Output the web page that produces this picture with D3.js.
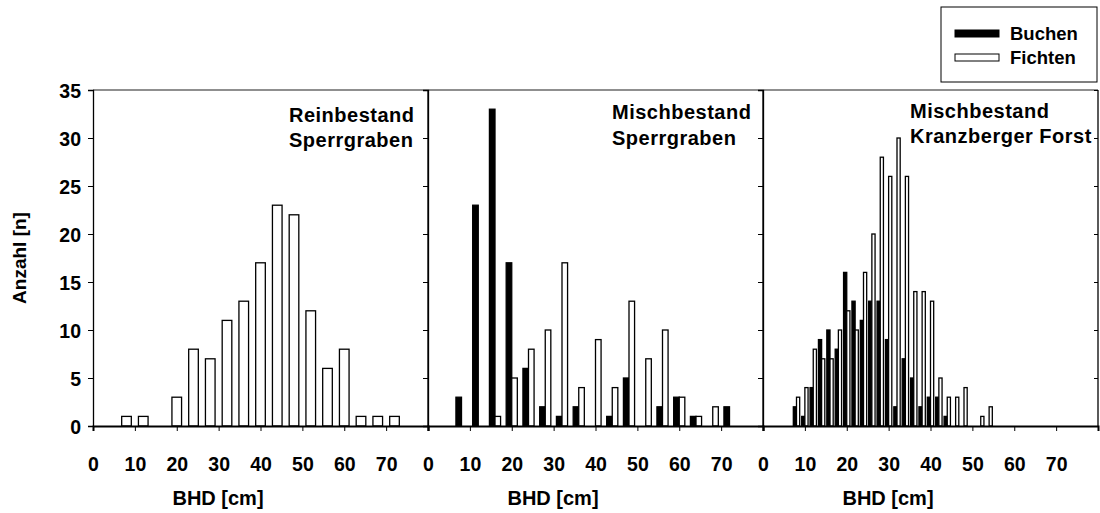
<!DOCTYPE html>
<html>
<head>
<meta charset="utf-8">
<script src="https://cdn.jsdelivr.net/npm/d3@7"></script>
<style>
  html, body { margin: 0; padding: 0; background: #fff; }
  svg { display: block; font-family: "Liberation Sans", Arial, Helvetica, sans-serif; font-weight: bold; }
</style>
</head>
<body>
<svg id="chart" width="1100" height="513"></svg>
<script>
// Diameter classes (BHD, cm) and tree counts per stand
const classes4 = [8, 12, 16, 20, 24, 28, 32, 36, 40, 44, 48, 52, 56, 60, 64, 68, 72];
const reinFichten = [1, 1, 0, 3, 8, 7, 11, 13, 17, 23, 22, 12, 6, 8, 1, 1, 1];

const sperrBuchen = [3, 23, 33, 17, 6, 2, 1, 2, 0, 1, 5, 0, 2, 3, 1, 0, 2];
const sperrFichten = [0, 0, 1, 5, 8, 10, 17, 4, 9, 4, 13, 7, 10, 3, 1, 2, 0];

const classes2 = [8, 10, 12, 14, 16, 18, 20, 22, 24, 26, 28, 30, 32, 34, 36, 38, 40, 42, 44, 46, 48, 50, 52, 54];
const kranzBuchen = [2, 1, 4, 9, 10, 8, 16, 13, 11, 13, 13, 9, 2, 7, 5, 2, 3, 3, 1, 0, 0, 0, 0, 0];
const kranzFichten = [3, 4, 8, 7, 7, 10, 12, 10, 16, 20, 28, 26, 30, 26, 14, 14, 13, 5, 3, 3, 4, 0, 1, 2];

const xTicks = [0, 10, 20, 30, 40, 50, 60, 70];
const yTicks = [0, 5, 10, 15, 20, 25, 30, 35];

const titles = [
  ["Reinbestand", "Sperrgraben"],
  ["Mischbestand", "Sperrgraben"],
  ["Mischbestand", "Kranzberger Forst"]
];
const seriesNames = ["Buchen", "Fichten"];
const xLabel = "BHD [cm]";
const yLabel = "Anzahl [n]";

// Layout
const svg = d3.select("#chart");
const plotTop = 90, plotBottom = 426, panelW = 335;
const panelLeft = [93, 428, 763];
const titlePos = [
  { dx: 196, y1: 122, y2: 147 },
  { dx: 184, y1: 119, y2: 145 },
  { dx: 147, y1: 118, y2: 143 }
];

const y = d3.scaleLinear().domain([0, 35]).range([plotBottom, plotTop]);

// Panel definitions: grouped pairs side by side around the class centre
const panels = [
  { classes: classes4, series: [{ values: reinFichten, fill: "#fff", offset: -0.5, w: 2.3 }] },
  { classes: classes4, series: [
      { values: sperrBuchen, fill: "#000", offset: -1, w: 1.33 },
      { values: sperrFichten, fill: "#fff", offset: 0, w: 1.33 } ] },
  { classes: classes2, series: [
      { values: kranzBuchen, fill: "#000", offset: -1, w: 0.76 },
      { values: kranzFichten, fill: "#fff", offset: 0, w: 0.76 } ] }
];

panels.forEach((p, i) => {
  const x0 = panelLeft[i];
  const x = d3.scaleLinear().domain([0, 80]).range([x0, x0 + panelW]);
  const g = svg.append("g");

  // Bars
  p.series.forEach(s => {
    const w = x(s.w) - x(0);
    g.selectAll(null)
      .data(p.classes.map((c, k) => ({ c, v: s.values[k] })))
      .join("rect")
      .attr("x", d => x(d.c) + s.offset * w)
      .attr("y", d => y(d.v))
      .attr("width", w)
      .attr("height", d => y(0) - y(d.v))
      .attr("fill", s.fill)
      .attr("stroke", "#000")
      .attr("stroke-width", 1.3);
  });

  // Frame: grey top, black sides
  g.append("line").attr("x1", x0).attr("x2", x0 + panelW).attr("y1", plotTop).attr("y2", plotTop)
    .attr("stroke", "#6a6a6a").attr("stroke-width", 1.4);
  g.append("line").attr("x1", x0 + panelW).attr("x2", x0 + panelW).attr("y1", plotTop).attr("y2", plotBottom)
    .attr("stroke", "#000").attr("stroke-width", 1.3);

  // Left axis with outward ticks
  const yAxis = d3.axisLeft(y).tickValues(yTicks).tickSize(5).tickFormat(i === 0 ? d3.format("d") : "");
  const ga = g.append("g").attr("transform", `translate(${x0},0)`).call(yAxis);
  ga.select(".domain").attr("stroke", "#000").attr("stroke-width", 1.3);
  ga.selectAll(".tick line").attr("stroke", "#000").attr("stroke-width", 1);
  ga.selectAll(".tick text").attr("font-size", 19.5).attr("font-family", null).attr("fill", "#000").attr("dx", -4).attr("dy", "0.36em");

  // Inward ticks on the right edge
  const gr = g.append("g").attr("transform", `translate(${x0 + panelW},0)`)
    .call(d3.axisLeft(y).tickValues(yTicks).tickSize(4).tickFormat(""));
  gr.select(".domain").remove();
  gr.selectAll(".tick line").attr("stroke", "#000");

  // Bottom axis
  const xAxis = d3.axisBottom(x).tickValues(xTicks).tickSize(5).tickPadding(26).tickFormat(d3.format("d"));
  const gx = g.append("g").attr("transform", `translate(0,${plotBottom})`).call(xAxis);
  gx.select(".domain").attr("stroke", "#000").attr("stroke-width", 2);
  gx.selectAll(".tick line").attr("stroke", "#000");
  gx.selectAll(".tick text").attr("font-size", 19.5).attr("font-family", null).attr("fill", "#000");

  // Axis title
  g.append("text").attr("x", x0 + 125).attr("y", 505).attr("text-anchor", "middle")
    .attr("font-size", 20).text(xLabel);

  // Panel title
  const tp = titlePos[i];
  const t = g.append("text").attr("font-size", 20).attr("letter-spacing", 0.5);
  t.append("tspan").attr("x", x0 + tp.dx).attr("y", tp.y1).text(titles[i][0]);
  t.append("tspan").attr("x", x0 + tp.dx).attr("y", tp.y2).text(titles[i][1]);
});

// Y axis title
svg.append("text")
  .attr("transform", `translate(26,${(plotTop + plotBottom) / 2}) rotate(-90)`)
  .attr("text-anchor", "middle").attr("font-size", 19).text(yLabel);

// Legend
const lg = svg.append("g");
lg.append("rect").attr("x", 941).attr("y", 7).attr("width", 156).attr("height", 75)
  .attr("fill", "#fff").attr("stroke", "#000").attr("stroke-width", 1);
const fills = ["#000", "#fff"];
seriesNames.forEach((name, k) => {
  const yy = 30 + k * 24;
  lg.append("rect").attr("x", 955).attr("y", yy).attr("width", 44).attr("height", 7)
    .attr("fill", fills[k]).attr("stroke", "#000").attr("stroke-width", 1);
  lg.append("text").attr("x", 1010).attr("y", yy + 10).attr("font-size", 18.5).text(name);
});
</script>
</body>
</html>
